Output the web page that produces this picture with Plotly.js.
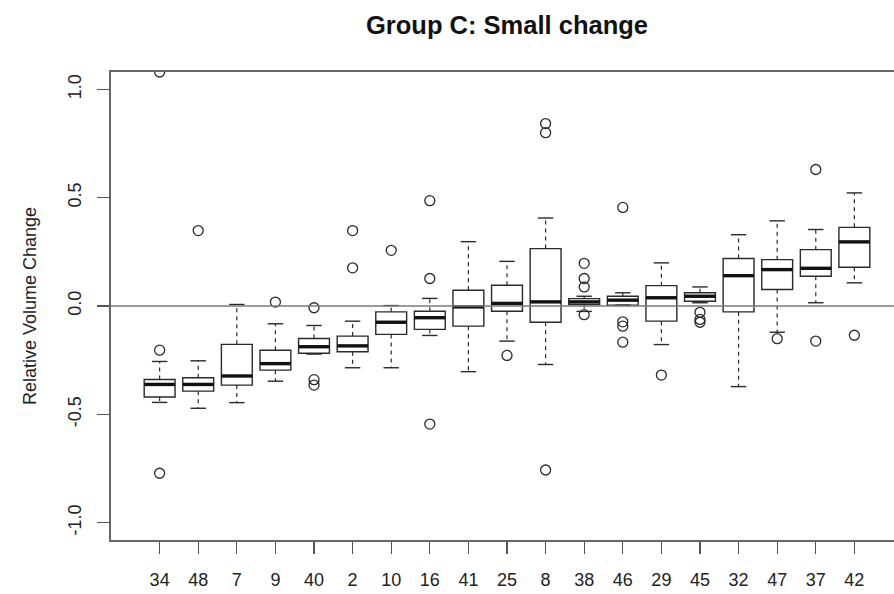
<!DOCTYPE html>
<html>
<head>
<meta charset="utf-8">
<script src="https://cdn.plot.ly/plotly-3.0.1.min.js"></script>
<style>
html,body{margin:0;padding:0;overflow:hidden;background:#fff;width:894px;height:594px;}
#chart{width:903px;height:594px;}
</style>
</head>
<body>
<div id="chart"></div>
<script>
// Category labels (subject IDs) in plotted order
const categories = ['34','48','7','9','40','2','10','16','41','25','8','38','46','29','45','32','47','37','42'];
// Box statistics
const q1      = [-0.420,-0.393,-0.365,-0.296,-0.218,-0.211,-0.131,-0.108,-0.093,-0.024,-0.075, 0.007, 0.004,-0.070, 0.022,-0.027, 0.076, 0.137, 0.179];
const medians = [-0.362,-0.362,-0.323,-0.266,-0.188,-0.184,-0.075,-0.054,-0.004, 0.012, 0.019, 0.019, 0.027, 0.038, 0.045, 0.140, 0.168, 0.174, 0.296];
const q3      = [-0.339,-0.331,-0.177,-0.204,-0.150,-0.139,-0.027,-0.024, 0.073, 0.096, 0.265, 0.034, 0.045, 0.094, 0.061, 0.219, 0.214, 0.260, 0.363];
const lowerWhisker = [-0.445,-0.472,-0.446,-0.347,-0.222,-0.285,-0.285,-0.136,-0.303,-0.162,-0.270,-0.025, 0.004,-0.178, 0.015,-0.372,-0.121, 0.015, 0.107];
const upperWhisker = [-0.256,-0.253, 0.007,-0.082,-0.090,-0.070, 0.002, 0.035, 0.297, 0.206, 0.406, 0.045, 0.061, 0.199, 0.088, 0.329, 0.393, 0.353, 0.522];
const outliers = [
  [1.08,-0.204,-0.772],
  [0.348],
  [],
  [0.018],
  [-0.008,-0.340,-0.365],
  [0.176,0.348],
  [0.257],
  [0.127,0.486,-0.545],
  [],
  [-0.228],
  [0.842,0.800,-0.757],
  [0.197,0.127,0.088,-0.040],
  [0.455,-0.073,-0.093,-0.167],
  [-0.319],
  [-0.029,-0.062,-0.075],
  [],
  [-0.151],
  [0.630,-0.162],
  [-0.135]
];
const yTickVals = [-1.0,-0.5,0.0,0.5,1.0];
const yTickText = ['-1.0','-0.5','0.0','0.5','1.0'];

const pos = categories.map((c,i)=>i+1);
const BOXW = 0.8, STAPLE = 0.4;
const ink = '#2a2a2a';

// whiskers (dashed), staples, thick medians, outliers
const wx=[], wy=[], sx=[], sy=[], mx=[], my=[], ox=[], oy=[];
pos.forEach((p,i)=>{
  wx.push(p,p,null,p,p,null); wy.push(q3[i],upperWhisker[i],null,q1[i],lowerWhisker[i],null);
  sx.push(p-STAPLE/2,p+STAPLE/2,null,p-STAPLE/2,p+STAPLE/2,null);
  sy.push(upperWhisker[i],upperWhisker[i],null,lowerWhisker[i],lowerWhisker[i],null);
  mx.push(p-BOXW/2,p+BOXW/2,null); my.push(medians[i],medians[i],null);
  outliers[i].forEach(v=>{ox.push(p); oy.push(v);});
});

const traces = [
  {type:'box', x:pos, q1:q1, median:medians, q3:q3, lowerfence:q1, upperfence:q3,
   width:BOXW, fillcolor:'#fff', line:{color:ink,width:1.4}, boxpoints:false,
   whiskerwidth:0, hoverinfo:'skip', showlegend:false},
  {type:'scatter', mode:'lines', x:wx, y:wy, line:{color:ink,width:1.2,dash:'4px,4px'}, hoverinfo:'skip', showlegend:false},
  {type:'scatter', mode:'lines', x:sx, y:sy, line:{color:ink,width:1.4}, hoverinfo:'skip', showlegend:false},
  {type:'scatter', mode:'lines', x:mx, y:my, line:{color:'#111',width:3.4}, hoverinfo:'skip', showlegend:false},
  {type:'scatter', mode:'markers', x:ox, y:oy, marker:{symbol:'circle-open',size:10,color:ink,line:{width:1.3,color:ink}}, hoverinfo:'skip', showlegend:false}
];

const layout = {
  width:903, height:594,
  margin:{l:111,r:0,t:72,b:54},
  paper_bgcolor:'#fff', plot_bgcolor:'#fff',
  font:{family:'"Liberation Sans", Arial, sans-serif', color:'#222', size:18},
  title:{text:'<b>Group C: Small change</b>', font:{size:25.5,color:'#111'}, x:0.5, xref:'paper', xanchor:'center', y:0.958, yref:'container', yanchor:'middle'},
  showlegend:false,
  xaxis:{range:[-0.26,20.26], tickvals:pos, ticktext:categories, showgrid:false, zeroline:false,
         showline:true, mirror:true, linecolor:'#666', linewidth:1.6,
         ticks:'outside', ticklen:12, tickcolor:'#555', tickwidth:1.3, ticklabelstandoff:11,
         tickfont:{size:18,color:'#222'}, fixedrange:true},
  yaxis:{range:[-1.08,1.08], tickvals:yTickVals, ticktext:yTickText, tickangle:-90, showgrid:false, zeroline:false,
         showline:true, mirror:true, linecolor:'#666', linewidth:1.6,
         ticks:'outside', ticklen:12, tickcolor:'#555', tickwidth:1.3, ticklabelstandoff:9,
         tickfont:{size:18,color:'#222'},
         title:{text:'Relative Volume Change', font:{size:18,color:'#222'}, standoff:24}, fixedrange:true},
  shapes:[{type:'line', xref:'paper', x0:0, x1:1, yref:'y', y0:0, y1:0, layer:'above', line:{color:'#7a7a7a',width:1.6}}]
};
Plotly.newPlot('chart', traces, layout, {displayModeBar:false, staticPlot:true});
</script>
</body>
</html>
